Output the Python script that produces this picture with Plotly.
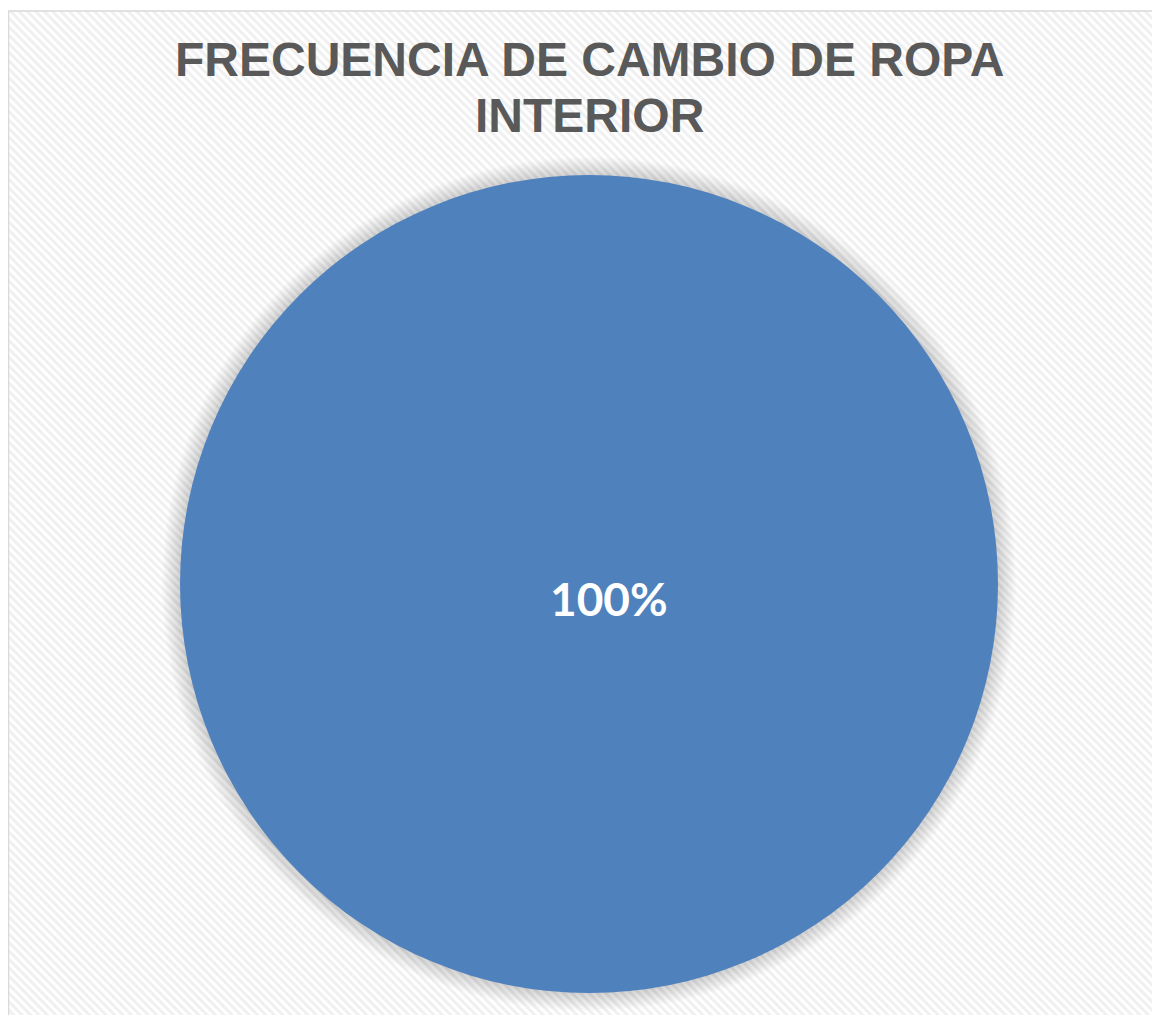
import base64
import plotly.graph_objects as go

# ---- data ----
categories = ["Diario"]
values = [100]
title_lines = ["FRECUENCIA DE CAMBIO DE ROPA", "INTERIOR"]

W, H = 1160, 1015
OFF = 8  # page body margin offset


def fx(px):
    return (px - OFF) / W


def fy(py):
    return 1 - (py - OFF) / H


total = sum(values)
pct_labels = [f"{round(v / total * 100)}%" for v in values]

fig = go.Figure()

# soft shadow behind the pie (decorative)
cx, cy, r = 589, 584, 409
for i in range(14, 0, -1):
    rr = r + i * 1.3
    fig.add_shape(type="circle", xref="paper", yref="paper",
                  x0=fx(cx - rr), x1=fx(cx + rr), y0=fy(cy + rr), y1=fy(cy - rr),
                  fillcolor="rgba(0,0,0,0.011)", line=dict(width=0), layer="below")

fig.add_trace(go.Pie(
    labels=categories, values=values,
    marker=dict(colors=["#4F81BD"], line=dict(width=0)),
    textinfo="none", hoverinfo="label+percent", sort=False, direction="clockwise",
    showlegend=False,
    domain=dict(x=[fx(cx - r), fx(cx + r)], y=[fy(cy + r), fy(cy - r)]),
))

# data label
fig.add_annotation(text=f"<b>{pct_labels[0]}</b>", x=fx(609), y=fy(598), xref="paper", yref="paper",
                   showarrow=False, xanchor="center", yanchor="middle",
                   font=dict(family="Lato", size=46, color="white"))

# title lines
for line, ypx in zip(title_lines, [59, 115]):
    fig.add_annotation(text=f"<b>{line}</b>", x=fx(590), y=fy(ypx), xref="paper", yref="paper",
                       showarrow=False, xanchor="center", yanchor="middle",
                       font=dict(family="Liberation Sans, Arial", size=48, color="#595959"))

# striped background
svg = ("<svg xmlns='http://www.w3.org/2000/svg' width='1160' height='1020'>"
       "<defs><pattern id='p' width='6' height='6' patternUnits='userSpaceOnUse' patternTransform='rotate(-45)'>"
       "<rect width='6' height='6' fill='#ffffff'/><rect width='3' height='6' fill='#f0f0f0'/></pattern></defs>"
       "<rect width='1160' height='1020' fill='url(#p)'/></svg>")
src = "data:image/svg+xml;base64," + base64.b64encode(svg.encode()).decode()
fig.add_layout_image(source=src, xref="paper", yref="paper", x=fx(8), y=fy(11),
                     sizex=fx(1157) - fx(8), sizey=fy(11) - fy(1030), sizing="stretch",
                     xanchor="left", yanchor="top", layer="below")

# border
fig.add_shape(type="rect", xref="paper", yref="paper", x0=fx(8.5), x1=fx(1157), y0=fy(1030), y1=fy(11),
              line=dict(color="#d9d9d9", width=1.5), fillcolor="rgba(0,0,0,0)", layer="above")

fig.update_layout(width=W, height=H, autosize=False, margin=dict(l=0, r=0, t=0, b=0),
                  paper_bgcolor="white", plot_bgcolor="white")

fig.write_html("out.html")
